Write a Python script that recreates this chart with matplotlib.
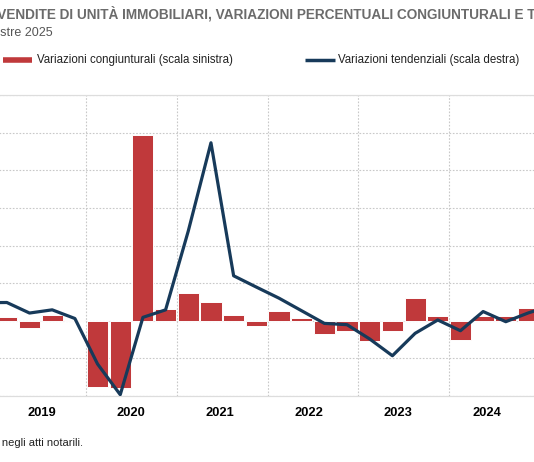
import numpy as np
import matplotlib.pyplot as plt
from matplotlib.lines import Line2D
from matplotlib.ticker import FixedLocator, NullFormatter

# Quarters from IV trim 2018 to I trim 2025
quarters = ["2018-Q4",
            "2019-Q1", "2019-Q2", "2019-Q3", "2019-Q4",
            "2020-Q1", "2020-Q2", "2020-Q3", "2020-Q4",
            "2021-Q1", "2021-Q2", "2021-Q3", "2021-Q4",
            "2022-Q1", "2022-Q2", "2022-Q3", "2022-Q4",
            "2023-Q1", "2023-Q2", "2023-Q3", "2023-Q4",
            "2024-Q1", "2024-Q2", "2024-Q3", "2024-Q4",
            "2025-Q1"]

# variazioni congiunturali (scala sinistra)
cong = [1.0,
        1.0, -1.9, 1.4, 0.3,
        -17.6, -17.8, 49.5, 3.1,
        7.3, 5.0, 1.5, -1.4,
        2.7, 0.7, -3.5, -2.6,
        -5.5, -2.8, 6.0, 1.3,
        -5.2, 1.2, 1.2, 3.5,
        -1.0]

# variazioni tendenziali (scala destra)
tend = [9.6,
        9.7, 4.1, 5.8, 1.2,
        -23.0, -39.3, 1.8, 5.8,
        47.7, 94.6, 23.9, 17.9,
        12.0, 5.3, -1.4, -2.1,
        -9.7, -18.6, -6.7, 0.4,
        -5.3, 4.9, -0.5, 4.2,
        8.0]

years = ["2019", "2020", "2021", "2022", "2023", "2024", "2025"]

red = "#c0393b"
navy = "#173a5a"
font = ["Liberation Sans", "DejaVu Sans"]

W, H = 534, 462
fig = plt.figure(figsize=(W / 100, H / 100), dpi=100)

x = np.arange(len(quarters)) - 1  # 2019-Q1 at 0
q = 22.68  # px per quarter
x0 = 6.84  # px of 2019-Q1
xmin, xmax = -1.5, 24.5
left = (x0 + q * xmin) / W
right = (x0 + q * xmax) / W
top = 1 - 95 / H
bottom = 1 - 396 / H
ax = fig.add_axes([left, bottom, right - left, top - bottom])

ax.bar(x, cong, width=0.93, color=red, edgecolor="white", linewidth=0.7, zorder=2)
ax.set_xlim(xmin, xmax)
ax.set_ylim(-20, 60)
ax.set_yticks(np.arange(-20, 61, 10))
ax.tick_params(axis="y", length=0, labelleft=False)

ax2 = ax.twinx()
ax2.plot(x, tend, color=navy, linewidth=2.3, zorder=3)
ax2.set_ylim(-40, 120)
ax2.tick_params(axis="y", length=0, labelright=False)

# year boundaries -> vertical grid, labels in between
ax.xaxis.set_major_locator(FixedLocator(np.arange(-0.5, 25, 4)))
ax.xaxis.set_major_formatter(NullFormatter())
label_pos = 1.54 + 3.93 * np.arange(len(years))
ax.xaxis.set_minor_locator(FixedLocator(label_pos))
ax.set_xticklabels(years, minor=True)
ax.tick_params(axis="x", which="both", length=0)
ax.tick_params(axis="x", which="minor", pad=8)
for lab in ax.get_xticklabels(minor=True):
    lab.set_fontfamily(font)
    lab.set_fontweight("bold")
    lab.set_fontsize(9.3)

ax.grid(True, color="#c8c8c8", linestyle=(0, (1.5, 1.5)), linewidth=0.8, zorder=0)
ax.set_axisbelow(True)
for a in (ax, ax2):
    for s in ("left", "right"):
        a.spines[s].set_visible(False)
    a.spines["top"].set_color("#dddddd")
    a.spines["bottom"].set_color("#dddddd")

# title, cut on the left like the reference; size fitted to the visible span
title = "COMPRAVENDITE DI UNITÀ IMMOBILIARI, VARIAZIONI PERCENTUALI CONGIUNTURALI E TENDENZIALI"
fig.canvas.draw()
r = fig.canvas.get_renderer()
probe = fig.text(0, 0, "VENDITE DI UNITÀ IMMOBILIARI, VARIAZIONI PERCENTUALI CONGIUNTURALI E T",
                 fontsize=10, fontweight="bold", family=font)
tsize = 10 * 538 / probe.get_window_extent(r).width
probe.remove()
probe = fig.text(0, 0, "COMPRA", fontsize=tsize, fontweight="bold", family=font)
wpx = probe.get_window_extent(r).width
probe.remove()
fig.text((-wpx - 2) / W, 1 - 14 / H, title, fontsize=tsize, fontweight="bold",
         family=font, color="#6b6b6b", va="center", ha="left")
fig.text(53 / W, 1 - 33 / H, "I trimestre 2019 - I trimestre 2025", fontsize=9,
         family=font, color="#555555", va="center", ha="right")

# legend
fig.add_artist(Line2D([3 / W, 32 / W], [1 - 60 / H] * 2, color=red, linewidth=4,
                      solid_capstyle="butt"))
fig.text(37 / W, 1 - 60 / H, "Variazioni congiunturali (scala sinistra)", fontsize=8.3,
         family=font, color="#222222", va="center", ha="left")
fig.add_artist(Line2D([305 / W, 335 / W], [1 - 60 / H] * 2, color=navy, linewidth=2.5,
                      solid_capstyle="butt"))
fig.text(338 / W, 1 - 60 / H, "Variazioni tendenziali (scala destra)", fontsize=8.3,
         family=font, color="#222222", va="center", ha="left")

fig.text(83 / W, 1 - 443 / H, "Fonte: Istat, elaborazione su compravendite registrate negli atti notarili.",
         fontsize=8, family=font, color="#222222", va="center", ha="right")

fig.savefig("out.png", dpi=100)
